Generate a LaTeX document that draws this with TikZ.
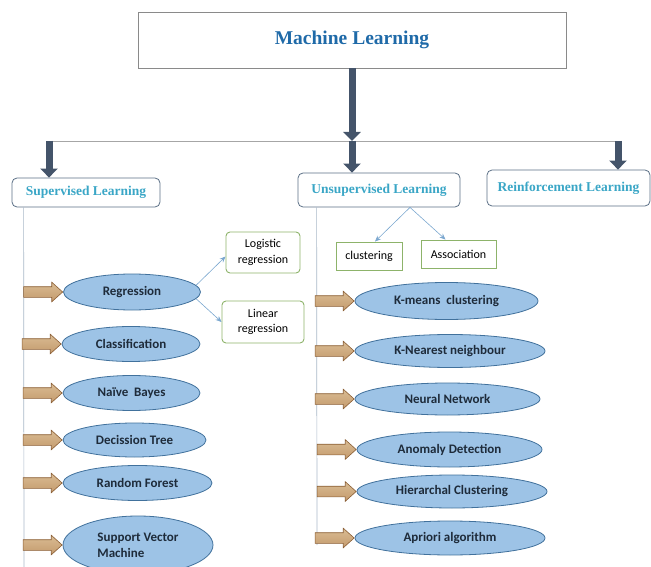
\documentclass[tikz,border=0pt]{standalone}
\usepackage{fontspec}
\setmainfont{Liberation Serif}
\newfontfamily\calibfont{Carlito}
\usetikzlibrary{arrows.meta,shapes.arrows,shapes.geometric,calc}
\definecolor{titleblue}{HTML}{1F6AA8}
\definecolor{mlteal}{HTML}{3AA6C6}
\definecolor{slatearrow}{HTML}{44546A}
\definecolor{boxgray}{HTML}{8A8A8A}
\definecolor{roundborder}{HTML}{5B6F86}
\definecolor{ellfill}{HTML}{9DC3E6}
\definecolor{ellborder}{HTML}{41719C}
\definecolor{elltext}{HTML}{1E2B3A}
\definecolor{greenborder}{HTML}{8DB36A}
\definecolor{smallarrow}{HTML}{7BA7CF}
\definecolor{vline}{HTML}{A9B8C8}
\definecolor{brownfill}{HTML}{C49A6C}
\definecolor{brownlight}{HTML}{D9BC94}
\definecolor{brownborder}{HTML}{8B5E34}
\begin{document}
\begin{tikzpicture}[x=1pt,y=-1pt,
  ellnode/.style={ellipse, draw=ellborder, fill=ellfill, line width=0.8pt, inner sep=0pt,
    font=\calibfont\bfseries\fontsize{13}{16}\selectfont, text=elltext},
  brarrow/.style={single arrow, draw=brownborder, top color=brownlight, bottom color=brownfill, line width=0.6pt,
    inner xsep=0pt, inner ysep=5pt, single arrow head extend=4.5pt, single arrow tip angle=84,
    minimum height=39pt, anchor=tip},
  catbox/.style={draw=roundborder, rounded corners=5pt, line width=0.8pt, text=mlteal,
    font=\bfseries\fontsize{13.5}{16}\selectfont},
  greenbox/.style={draw=greenborder, line width=0.9pt, font=\calibfont\fontsize{12}{15.5}\selectfont,
    text=black, align=center, inner sep=0pt},
  thickarrow/.style={draw=slatearrow, line width=7pt, -{Triangle[width=17pt,length=9pt]}},
  thinarrow/.style={draw=smallarrow, line width=0.6pt, -{Stealth[length=6pt,width=5pt]}},
  guide/.style={draw=vline, line width=0.7pt}
]
\useasboundingbox (0,0) rectangle (651,567);

% title
\node[draw=boxgray, line width=0.8pt, minimum width=428pt, minimum height=56pt, text=titleblue,
  font=\bfseries\fontsize{19.5}{22}\selectfont] (ml) at (352,40) {Machine Learning};

% categories
\node[catbox, minimum width=148pt, minimum height=29pt] (sup) at (86,192.5) {Supervised Learning};
\node[catbox, minimum width=162pt, minimum height=34pt] (uns) at (379,190) {Unsupervised Learning};
\node[catbox, minimum width=163pt, minimum height=36pt] (rei) at (568.5,188) {Reinforcement Learning};

% connectors from title
\coordinate (hl) at (49,141);
\coordinate (hc) at (352,141);
\coordinate (hr) at (618,141);
\draw[draw=gray!70, line width=0.8pt] (hl) -- (hr);
\draw[thickarrow] (ml.south -| hc) -- (hc);
\draw[thickarrow] (hc) -- (hc |- uns.north);
\draw[thickarrow] (hl) -- (hl |- sup.north);
\draw[thickarrow] (hr) -- (hr |- rei.north);

% vertical guides
\coordinate (supend) at (24,567);
\coordinate (unsend) at (317,545);
\draw[guide] ($(sup.south west)+(12,0)$) -- (supend);
\draw[guide] ($(uns.south west)+(19,0)$) -- (unsend);

% supervised ellipses
\node[ellnode, minimum width=137pt, minimum height=36pt] (reg) at (132,292) {Regression};
\node[ellnode, minimum width=138pt, minimum height=35pt] (cls) at (131,344) {Classification};
\node[ellnode, minimum width=137pt, minimum height=35pt] (nb) at (131.5,393) {Naïve\ \ Bayes};
\node[ellnode, minimum width=143pt, minimum height=34pt] (dt) at (134.5,440) {Decission Tree};
\node[ellnode, minimum width=149pt, minimum height=35pt] (rf) at (137.5,483) {Random Forest};
\node[ellnode, minimum width=150pt, minimum height=58pt, align=left] (svm) at (138,545) {Support Vector\\Machine};

% unsupervised ellipses
\node[ellnode, minimum width=183pt, minimum height=37pt] (km) at (446.5,301) {K-means\ \ clustering};
\node[ellnode, minimum width=190pt, minimum height=33pt] (knn) at (450,351) {K-Nearest neighbour};
\node[ellnode, minimum width=185pt, minimum height=32pt] (nn) at (447.5,399) {Neural Network};
\node[ellnode, minimum width=185pt, minimum height=35pt] (ad) at (449.5,449.5) {Anomaly Detection};
\node[ellnode, minimum width=190pt, minimum height=33pt] (hcl) at (452,491.5) {Hierarchal Clustering};
\node[ellnode, minimum width=190pt, minimum height=34pt] (ap) at (450,538) {Apriori algorithm};

% brown arrows
\foreach \n in {reg,cls,nb,dt,rf,svm,km,knn,nn,ad,hcl,ap}
  \node[brarrow] (arr-\n) at (\n.west) {};

% green boxes
\node[greenbox, minimum width=66pt, minimum height=28pt] (clu) at (369,256) {clustering};
\node[greenbox, minimum width=75pt, minimum height=28pt] (ass) at (458.5,254) {Association};
\node[greenbox, rounded corners=4pt, minimum width=74pt, minimum height=41pt] (log) at (263,252.5) {Logistic\\regression};
\node[greenbox, rounded corners=4pt, minimum width=82pt, minimum height=42pt] (lin) at (263,322) {Linear\\regression};

% thin arrows
\draw[thinarrow] ($(uns.south)+(31,0)$) -- ($(clu.north)+(6,0)$);
\draw[thinarrow] ($(uns.south)+(31,0)$) -- ($(ass.north)+(-13,0)$);
\draw[thinarrow] (reg.6) -- ($(log.west)+(0,4)$);
\draw[thinarrow] (reg.-6) -- (lin.west);
\end{tikzpicture}
\end{document}
